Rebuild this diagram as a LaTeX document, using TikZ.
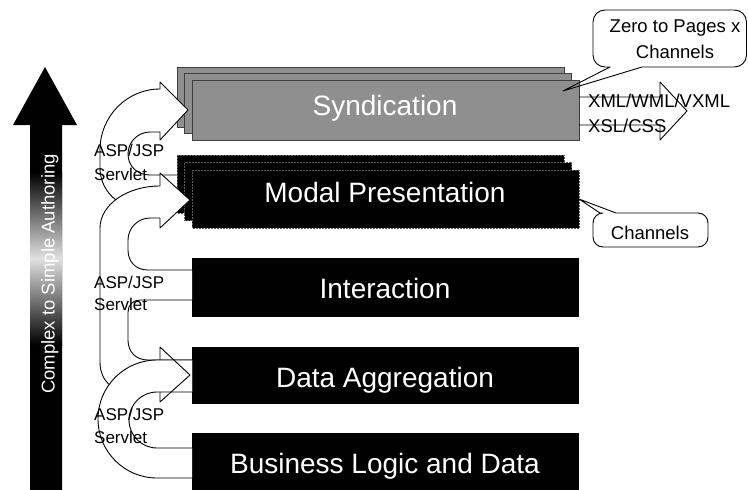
\documentclass[tikz,border=0pt]{standalone}
\usepackage{fontspec}
\setmainfont{Liberation Sans}
\begin{document}
\begin{tikzpicture}[x=1pt,y=-1pt,
  layertext/.style={text=white,inner sep=0pt,anchor=base,font=\fontsize{28}{32}\selectfont},
  lab/.style={inner sep=0pt,anchor=base west,font=\fontsize{17}{20}\selectfont},
  small/.style={inner sep=0pt,anchor=base,font=\fontsize{18.5}{22}\selectfont},
  synbox/.style={fill=black!44,draw=black!75,line width=0.6pt},
  blkbox/.style={fill=black,draw=black!65,line width=0.5pt,densely dotted},
  plainbox/.style={fill=black},
  edge/.style={line width=0.9pt,line join=round},
]
\useasboundingbox (0,0) rectangle (748,490);

% vertical axis arrow
\fill (30,490) -- (30,125) -- (13,125) -- (45,67) -- (77,125) -- (62,125) -- (62,490) -- cycle;
\shade[top color=black,bottom color=black,middle color=black!12] (30,172) rectangle (62,345);
\node[rotate=90,text=white,inner sep=0pt,anchor=base,font=\fontsize{18.5}{22}\selectfont] (axis) at (54.5,274) {Complex to Simple Authoring};

% Syndication stack
\path[synbox] (177,67) rectangle (564,127);
\path[synbox] (184.5,73.5) rectangle (571.5,133.5);
\path[synbox] (192,80) rectangle (579,140);
% Modal presentation stack
\path[blkbox] (177,155) rectangle (564,213);
\path[blkbox] (184.5,162.5) rectangle (571.5,220.5);
\path[blkbox] (192,170) rectangle (579,228);
% single layers
\path[plainbox] (192,258) rectangle (579,317);
\path[plainbox] (192,347) rectangle (579,404);
\path[plainbox] (192,433) rectangle (579,490);

% arrow A : Modal -> Syndication
\fill[white] (188,110) -- (160,140) -- (160,132) -- (150,132) .. controls (138,132) and (128,142) .. (128,154) .. controls (128,166) and (137,175) .. (150,175) -- (177,175) -- (140,208) .. controls (118,208) and (100,190) .. (100,168) -- (100,150) .. controls (100,116.3) and (126.9,89) .. (160,89) -- (160,82) -- cycle;
\draw[edge] (160,89) -- (160,82) -- (188,110) -- (160,140) -- (160,132) -- (150,132) .. controls (138,132) and (128,142) .. (128,154) .. controls (128,166) and (137,175) .. (150,175) -- (177,175);
\draw[edge] (160,89) .. controls (126.9,89) and (100,116.3) .. (100,150) -- (100,168) .. controls (100,190) and (118,208) .. (140,208);

% arrow B : lower layers -> Modal
\fill[white] (190,200) -- (160,228) -- (160,218) -- (150,218) .. controls (138,218) and (128,228) .. (128,240) -- (128,250) .. controls (128,262) and (136,270) .. (148,270) -- (192,270) -- (192,300) -- (140,300) .. controls (133,300) and (128,305) .. (128,312) -- (128,340) .. controls (128,352) and (136,360) .. (148,360) -- (192,360) -- (192,392) -- (130,392) .. controls (112,392) and (100,380) .. (100,362) -- (100,228) .. controls (100,204.8) and (126.9,186) .. (160,186) -- (160,173) -- cycle;
\draw[edge] (160,186) -- (160,173) -- (190,200) -- (160,228) -- (160,218) -- (150,218) .. controls (138,218) and (128,228) .. (128,240) -- (128,250) .. controls (128,262) and (136,270) .. (148,270) -- (192,270);
\draw[edge] (192,300) -- (140,300) .. controls (133,300) and (128,305) .. (128,312) -- (128,340) .. controls (128,352) and (136,360) .. (148,360) -- (192,360);
\draw[edge] (160,186) .. controls (126.9,186) and (100,204.8) .. (100,228) -- (100,362) .. controls (100,380) and (112,392) .. (130,392);

% arrow C : Business -> Data Aggregation
\fill[white] (192,360) -- (157,360) .. controls (124.4,360) and (98,386.4) .. (98,419) .. controls (98,451.6) and (124.4,478) .. (157,478) -- (192,478) -- (192,448) -- (157,448) .. controls (141.5,448) and (129,435.5) .. (129,420) .. controls (129,404.5) and (141.5,392) .. (157,392) -- (192,392) -- cycle;
\draw[edge] (192,360) -- (157,360) .. controls (124.4,360) and (98,386.4) .. (98,419) .. controls (98,451.6) and (124.4,478) .. (157,478) -- (192,478);
\draw[edge] (192,392) -- (157,392) .. controls (141.5,392) and (129,404.5) .. (129,420) .. controls (129,435.5) and (141.5,448) .. (157,448) -- (192,448);
\draw[edge] (160,360) -- (160,347) -- (190,375) -- (160,402) -- (160,392);

% layer texts
\node[layertext] (syn) at (385,115) {Syndication};
\node[layertext] (modal) at (385,202) {Modal Presentation};
\node[layertext] (inter) at (385,298) {Interaction};
\node[layertext] (aggr) at (385,387) {Data Aggregation};
\node[layertext] (busi) at (385,473) {Business Logic and Data};

% ASP/JSP labels
\node[lab] (asp1) at (94,156) {ASP/JSP};
\node[lab] (srv1) at (94,180) {Servlet};
\node[lab] (asp2) at (94,288) {ASP/JSP};
\node[lab] (srv2) at (94,310) {Servlet};
\node[lab] (asp3) at (94,420) {ASP/JSP};
\node[lab] (srv3) at (94,443) {Servlet};

% output arrow
\draw[edge] (579,97) -- (660,97) -- (660,82) -- (687,111) -- (660,140) -- (660,125) -- (579,125);
\node[small,anchor=base west] (xml) at (588,107) {XML/WML/VXML};
\node[small,anchor=base west] (xsl) at (588,132) {XSL/CSS};

% callouts
\draw[edge] (610,67) -- (563,91) -- (642,67) {[rounded corners=12pt] -- (746.5,67) -- (746.5,10) -- (593,10) -- (593,67)} -- cycle;
\node[small] (zero) at (675,32) {Zero to Pages x};
\node[small] (zch) at (675,58) {Channels};
\draw[edge] (600,213) -- (579,199) -- (616,213) {[rounded corners=10pt] -- (708,213) -- (708,247) -- (593,247) -- (593,213)} -- cycle;
\node[small] (ch) at (650,239) {Channels};
\end{tikzpicture}
\end{document}
